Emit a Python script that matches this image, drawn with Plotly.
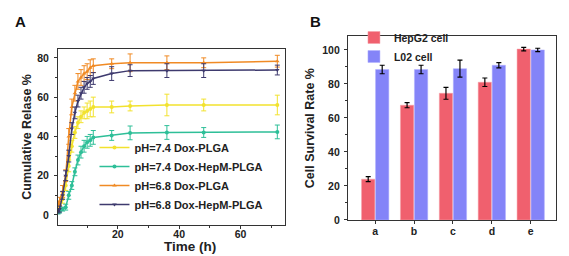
import plotly.graph_objects as go

# ---- Panel A data ----
time_h = [0.5, 1, 2, 3, 4, 5, 6, 7, 8, 9, 10, 11, 12, 18, 24, 36, 48, 72]
ph74_plga = [3, 5, 8, 15, 25, 35, 42, 47, 50, 52, 53, 54, 55, 55, 55.5, 56, 56, 56]
ph74_plga_err = [1, 1.5, 2, 2.5, 3, 3, 3, 3, 3, 3, 4, 4, 5, 3, 2.5, 5.5, 3, 5]
ph74_hepm = [1.5, 2, 3, 4, 10, 15, 22, 28, 32, 35, 37, 38, 39.5, 40.5, 41.8, 42, 42, 42.3]
ph74_hepm_err = [1, 1, 1, 1.5, 2, 2, 2, 2.5, 3, 3, 3, 3, 3.5, 2.5, 3.5, 3.5, 2.5, 3.5]
ph68_plga = [5, 7, 12, 20, 40, 55, 62, 68, 70, 72, 73, 75, 76, 77, 77.5, 77.5, 77.5, 78.3]
ph68_plga_err = [2, 2, 3, 3, 4, 4, 4, 4, 4, 4, 4, 4, 3.5, 2.5, 4.5, 3.5, 2.5, 3]
ph68_hepm = [2, 3, 10, 20, 30, 44, 52, 58, 62, 65, 67, 68, 69.5, 72, 73.5, 73.5, 73.5, 73.8]
ph68_hepm_err = [1, 1.5, 2, 2.5, 3, 3, 3, 3, 3, 3, 3, 3, 3, 3.5, 3, 3.5, 3.5, 2.5]

# ---- Panel B data ----
groups = ["a", "b", "c", "d", "e"]
hepg2 = [24, 67.5, 74.5, 81, 100.5]
hepg2_err = [1.5, 1.5, 3.5, 2.5, 1]
l02 = [88.5, 88.5, 89, 91, 100]
l02_err = [2.5, 2.5, 5, 1.5, 1]

FONT = "Liberation Sans, Arial, sans-serif"

fig = go.Figure()

series = [
    ("pH=7.4 Dox-PLGA", ph74_plga, ph74_plga_err, "#F2E22E", "circle"),
    ("pH=7.4 Dox-HepM-PLGA", ph74_hepm, ph74_hepm_err, "#2EBF98", "circle"),
    ("pH=6.8 Dox-PLGA", ph68_plga, ph68_plga_err, "#F08A24", "triangle-up"),
    ("pH=6.8 Dox-HepM-PLGA", ph68_hepm, ph68_hepm_err, "#3E3A6E", "triangle-down"),
]
for name, y, e, c, sym in series:
    fig.add_trace(go.Scatter(
        x=time_h, y=y, name=name, mode="lines+markers",
        line=dict(color=c, width=1.5),
        marker=dict(color=c, symbol=sym, size=4),
        error_y=dict(type="data", array=e, color=c, thickness=1, width=2.5),
        xaxis="x", yaxis="y", legend="legend",
    ))

fig.add_trace(go.Bar(
    x=groups, y=hepg2, name="HepG2 cell",
    marker=dict(color="#F0606E", line=dict(color="#F4A0A8", width=0.5)),
    error_y=dict(type="data", array=hepg2_err, color="black", thickness=1.2, width=2.5),
    xaxis="x2", yaxis="y2", legend="legend2",
))
fig.add_trace(go.Bar(
    x=groups, y=l02, name="L02 cell",
    marker=dict(color="#8484F8", line=dict(color="#B0B0FF", width=0.5)),
    error_y=dict(type="data", array=l02_err, color="black", thickness=1.2, width=2.5),
    xaxis="x2", yaxis="y2", legend="legend2",
))

axis_common = dict(
    showline=True, linecolor="#333", linewidth=1.2, mirror=True,
    ticks="outside", ticklen=3, tickwidth=1, tickcolor="#333",
    showgrid=False, zeroline=False,
    tickfont=dict(family=FONT, size=10.5, color="#222", weight="bold"),
)

fig.update_layout(
    width=569, height=256,
    margin=dict(l=0, r=0, t=0, b=0),
    paper_bgcolor="white", plot_bgcolor="white",
    barmode="group", bargap=0.28, bargroupgap=0.05,
    xaxis=dict(domain=[0.0879, 0.4868], range=[0.5, 74.5], anchor="y",
               tickvals=[20, 40, 60], ticklabelstandoff=-4,
               minor=dict(tickvals=[10, 30, 50, 70], ticks="outside", ticklen=2, tickcolor="#333"),
               **axis_common),
    yaxis=dict(domain=[0.1328, 0.8359], range=[-5, 84.5], anchor="x",
               tickvals=[0, 20, 40, 60, 80], ticklabelstandoff=3,
               minor=dict(tickvals=[10, 30, 50, 70], ticks="outside", ticklen=2, tickcolor="#333"),
               title=dict(text="Cumulative Relase %", standoff=2,
                          font=dict(family=FONT, size=12.5, color="#222", weight="bold")),
               **axis_common),
    xaxis2=dict(domain=[0.5975, 0.9631], range=[-0.7, 4.65], anchor="y2",
                ticklabelstandoff=-2,
                **axis_common),
    yaxis2=dict(domain=[0.1523, 0.8867], range=[0, 108], anchor="x2",
                tickvals=[0, 20, 40, 60, 80, 100], ticklabelstandoff=2,
                minor=dict(tickvals=[10, 30, 50, 70, 90], ticks="outside", ticklen=2, tickcolor="#333"),
                title=dict(text="Cell Survival Rate %", standoff=4,
                           font=dict(family=FONT, size=12.5, color="#222", weight="bold")),
                **axis_common),
    legend=dict(x=0.152, y=0.50, xanchor="left", yanchor="top",
                bgcolor="rgba(0,0,0,0)", tracegroupgap=0, itemwidth=30,
                font=dict(family=FONT, size=11, color="#222", weight="bold")),
    legend2=dict(x=0.608, y=0.94, xanchor="left", yanchor="top",
                 bgcolor="rgba(0,0,0,0)", itemwidth=30,
                 font=dict(family=FONT, size=10.5, color="#222", weight="bold")),
    annotations=[
        dict(text="A", x=0.008, y=0.99, xref="paper", yref="paper", showarrow=False,
             xanchor="left", yanchor="top",
             font=dict(family=FONT, size=15, color="#111", weight="bold")),
        dict(text="B", x=0.527, y=0.99, xref="paper", yref="paper", showarrow=False,
             xanchor="left", yanchor="top",
             font=dict(family=FONT, size=15, color="#111", weight="bold")),
        dict(text="Time (h)", x=0.32, y=0.045, xref="paper", yref="paper", showarrow=False,
             xanchor="center", yanchor="middle",
             font=dict(family=FONT, size=13.5, color="#222", weight="bold")),
    ],
)

fig.write_html("out.html")
